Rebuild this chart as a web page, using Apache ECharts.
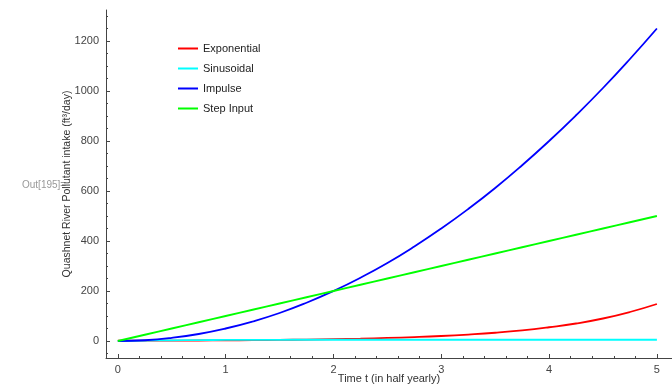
<!DOCTYPE html>
<html>
<head>
<meta charset="utf-8">
<script src="https://cdn.jsdelivr.net/npm/echarts@6/dist/echarts.min.js"></script>
<style>
  html, body { margin: 0; padding: 0; background: #fff; }
  #chart { width: 672px; height: 388px; }
</style>
</head>
<body>
<div id="chart"></div>
<script>
// Sample times (half-years)
const T = [0, 0.25, 0.5, 0.75, 1, 1.25, 1.5, 1.75, 2, 2.25, 2.5, 2.75, 3, 3.25, 3.5, 3.75, 4, 4.25, 4.5, 4.75, 5];

// Pollutant intake for each input type (ft^3/day)
const exponential = [1, 1.3, 1.6, 2.1, 2.7, 3.5, 4.5, 5.8, 7.4, 9.5, 12.2, 15.6, 20, 25.8, 33, 42.5, 55, 70, 90, 116, 148];
const sinusoidal  = [0, 1.5, 2.8, 3.6, 4.2, 4.6, 4.8, 5, 5, 5, 5, 5, 5, 5, 5, 5, 5, 5, 5, 5, 5];
const impulse     = [0, 3, 12.5, 28, 50, 78, 112, 153, 200, 253, 312, 378, 450, 528, 612, 703, 800, 903, 1012, 1128, 1250];
const stepInput   = [0, 25, 50, 75, 100, 125, 150, 175, 200, 225, 250, 275, 300, 325, 350, 375, 400, 425, 450, 475, 500];

const seriesNames = ['Exponential', 'Sinusoidal', 'Impulse', 'Step Input'];
const seriesColors = ['#ff0000', '#00ffff', '#0000ff', '#00ff00'];
const seriesValues = [exponential, sinusoidal, impulse, stepInput];

// Axis ticks
const xMajor = [0, 1, 2, 3, 4, 5];
const xMinor = [0.2, 0.4, 0.6, 0.8, 1.2, 1.4, 1.6, 1.8, 2.2, 2.4, 2.6, 2.8, 3.2, 3.4, 3.6, 3.8, 4.2, 4.4, 4.6, 4.8];
const yMajor = [0, 200, 400, 600, 800, 1000, 1200];
const yMinor = [-50, 50, 100, 150, 250, 300, 350, 450, 500, 550, 650, 700, 750, 850, 900, 950, 1050, 1100, 1150, 1250, 1300];

const X_MIN = -0.11, X_MAX = 5.14;
const Y_MIN = -68, Y_MAX = 1324;

const FONT = 'Liberation Sans, Arial, sans-serif';
const AXIS_COLOR = '#444';
const LABEL_COLOR = '#444';

function pairs(values) {
  return T.map((t, i) => [t, values[i]]);
}

function xAxisDef(ticks, len, withLabels, extra) {
  return Object.assign({
    type: 'value', position: 'bottom', min: X_MIN, max: X_MAX,
    axisLine: { show: withLabels, onZero: false, lineStyle: { color: AXIS_COLOR, width: 1 } },
    axisTick: { show: true, inside: true, length: len, customValues: ticks, lineStyle: { color: AXIS_COLOR, width: 1 } },
    axisLabel: { show: withLabels, customValues: ticks, margin: 6, color: LABEL_COLOR, fontSize: 11, fontFamily: FONT,
                 formatter: v => String(v) },
    splitLine: { show: false }
  }, extra || {});
}

function yAxisDef(ticks, len, withLabels, extra) {
  return Object.assign({
    type: 'value', position: 'left', min: Y_MIN, max: Y_MAX,
    axisLine: { show: withLabels, onZero: false, lineStyle: { color: AXIS_COLOR, width: 1 } },
    axisTick: { show: true, inside: true, length: len, customValues: ticks, lineStyle: { color: AXIS_COLOR, width: 1 } },
    axisLabel: { show: withLabels, customValues: ticks, margin: 7, color: LABEL_COLOR, fontSize: 11, fontFamily: FONT,
                 formatter: v => String(v) },
    splitLine: { show: false }
  }, extra || {});
}

const chart = echarts.init(document.getElementById('chart'), null, { renderer: 'canvas' });

chart.setOption({
  animation: false,
  backgroundColor: '#fff',
  grid: { left: 106, right: 0, top: 10, bottom: 30, containLabel: false, outerBoundsMode: 'none' },
  xAxis: [
    xAxisDef(xMajor, 4, true, {
      name: 'Time t (in half yearly)', nameLocation: 'middle', nameGap: 15, nameMoveOverlap: false,
      nameTextStyle: { color: '#333', fontSize: 11, fontFamily: FONT }
    }),
    xAxisDef(xMinor, 2, false)
  ],
  yAxis: [
    yAxisDef(yMajor, 4, true, {
      name: 'Quashnet River Pollutant intake (ft³/day)', nameLocation: 'middle', nameGap: 33, nameMoveOverlap: false,
      nameTextStyle: { color: '#333', fontSize: 10.5, fontFamily: FONT }
    }),
    yAxisDef(yMinor, 2, false)
  ],
  legend: {
    orient: 'vertical', left: 173, top: 38,
    itemWidth: 20, itemHeight: 2, itemGap: 9,
    icon: 'rect',
    textStyle: { color: '#222', fontSize: 11, fontFamily: FONT },
    data: seriesNames
  },
  graphic: [{
    type: 'text', left: 22, top: 180,
    style: { text: 'Out[195]=', fill: '#999', fontSize: 10, fontFamily: FONT }
  }],
  series: seriesNames.map((name, i) => ({
    name: name, type: 'line', xAxisIndex: 0, yAxisIndex: 0,
    data: pairs(seriesValues[i]),
    smooth: true, showSymbol: false, symbol: 'none',
    color: seriesColors[i],
    lineStyle: { width: 1.8, color: seriesColors[i] }
  }))
});
</script>
</body>
</html>
